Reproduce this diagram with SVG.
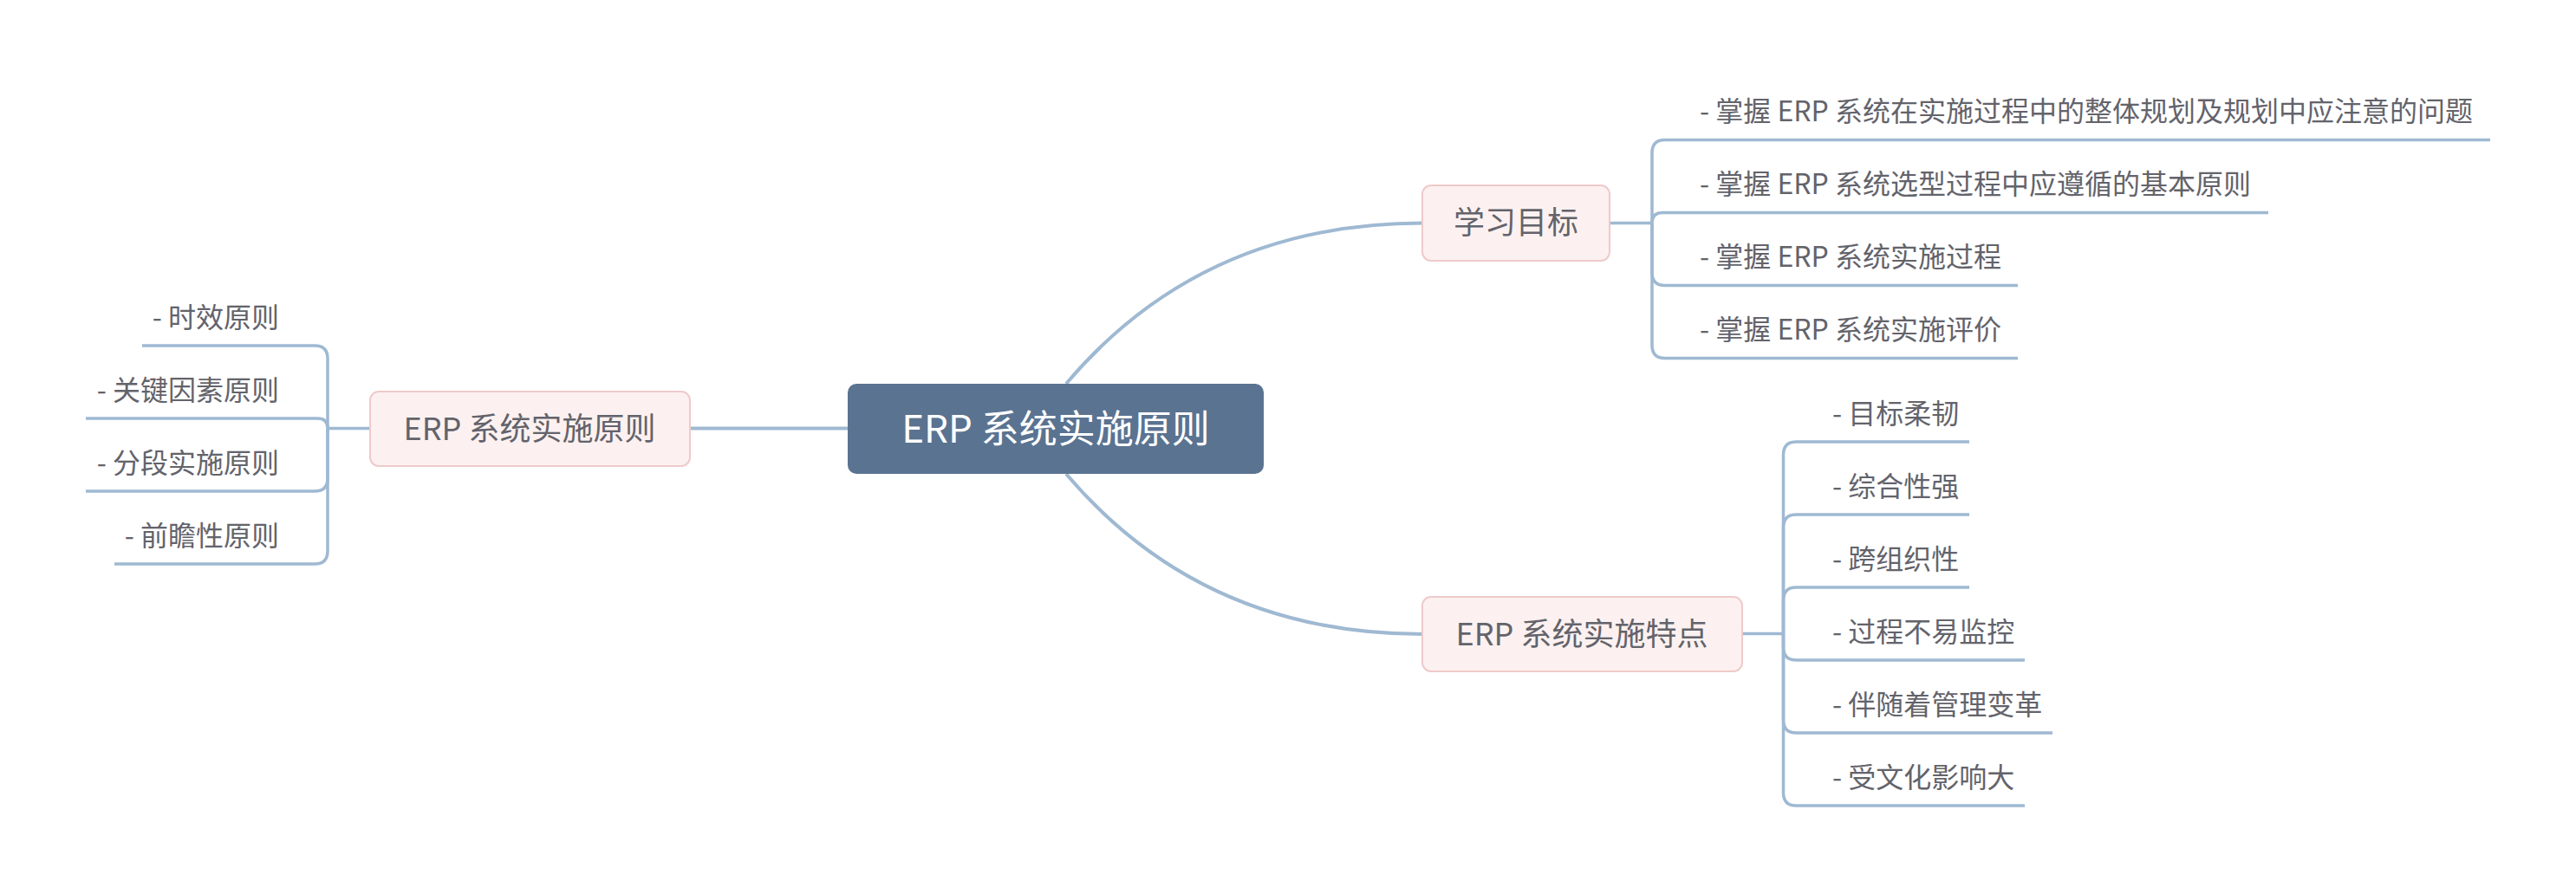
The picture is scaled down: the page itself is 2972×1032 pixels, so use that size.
<svg xmlns="http://www.w3.org/2000/svg" width="2972" height="1032" viewBox="0 0 2972 1032">
<style>
.bg{fill:#ffffff}
.ln{fill:none;stroke:#9fb9d2;stroke-width:3.5;stroke-linecap:butt;stroke-linejoin:round}
.main{fill:none;stroke:#9fb9d2;stroke-width:4}
.root{fill:#5a7391}
.br{fill:#fcf1f0;stroke:#efcaca;stroke-width:2}
text{font-family:"Noto Sans CJK SC","Noto Sans",sans-serif;fill:#63636b}
.t-root{font-size:44px;fill:#ffffff;text-anchor:middle}
.t-br{font-size:36px;text-anchor:middle}
.t-it{font-size:32px}
.t-itl{font-size:32px;text-anchor:end}
</style>
<rect class="bg" x="0" y="0" width="2972" height="1032"/>
<g id="connectors">
  <path class="main" d="M1230,443 Q1387,257.5 1642,257.5"/>
  <path class="main" d="M1230,547 Q1387,732 1642,732"/>
  <path class="main" d="M978,494.5 H796"/>
  <!-- 学习目标 children -->
  <path class="ln" d="M1857,257.5 H1906"/>
  <path class="ln" d="M1906,257.5 V176.5 Q1906,161.5 1921,161.5 H2873"/>
  <path class="ln" d="M1906,257.5 Q1906,245.5 1918,245.5 H2617"/>
  <path class="ln" d="M1906,257.5 V314.5 Q1906,329.5 1921,329.5 H2328"/>
  <path class="ln" d="M1906,257.5 V398.5 Q1906,413.5 1921,413.5 H2328"/>
  <!-- 特点 children -->
  <path class="ln" d="M2010,731.5 H2057.5"/>
  <path class="ln" d="M2057.5,731.5 V525 Q2057.5,510 2072.5,510 H2272"/>
  <path class="ln" d="M2057.5,731.5 V609 Q2057.5,594 2072.5,594 H2272"/>
  <path class="ln" d="M2057.5,731.5 V693 Q2057.5,678 2072.5,678 H2272"/>
  <path class="ln" d="M2057.5,731.5 V747 Q2057.5,762 2072.5,762 H2336"/>
  <path class="ln" d="M2057.5,731.5 V831 Q2057.5,846 2072.5,846 H2368"/>
  <path class="ln" d="M2057.5,731.5 V915 Q2057.5,930 2072.5,930 H2336"/>
  <!-- 原则 children -->
  <path class="ln" d="M427,494.5 H378"/>
  <path class="ln" d="M378,494.5 V414 Q378,399 363,399 H164"/>
  <path class="ln" d="M378,494.5 Q378,483 366.5,483 H99"/>
  <path class="ln" d="M378,494.5 V552 Q378,567 363,567 H99"/>
  <path class="ln" d="M378,494.5 V636 Q378,651 363,651 H132"/>
</g>
<g id="root">
  <rect class="root" x="978" y="443" width="480" height="104" rx="10"/>
  <text class="t-root" x="1218" y="511">ERP 系统实施原则</text>
</g>
<g id="node-xuexi">
  <rect class="br" x="1641" y="214" width="216" height="87" rx="10"/>
  <text class="t-br" x="1749" y="270">学习目标</text>
</g>
<g id="node-tedian">
  <rect class="br" x="1641" y="689" width="369" height="86" rx="10"/>
  <text class="t-br" x="1825" y="745">ERP 系统实施特点</text>
</g>
<g id="node-yuanze">
  <rect class="br" x="427" y="452" width="369" height="86" rx="10"/>
  <text class="t-br" x="611" y="508">ERP 系统实施原则</text>
</g>
<g id="items-xuexi">
  <g id="x1"><text class="t-it" x="1961" y="140">- 掌握 ERP 系统在实施过程中的整体规划及规划中应注意的问题</text></g>
  <g id="x2"><text class="t-it" x="1961" y="224">- 掌握 ERP 系统选型过程中应遵循的基本原则</text></g>
  <g id="x3"><text class="t-it" x="1961" y="308">- 掌握 ERP 系统实施过程</text></g>
  <g id="x4"><text class="t-it" x="1961" y="392">- 掌握 ERP 系统实施评价</text></g>
</g>
<g id="items-tedian">
  <g id="t1"><text class="t-it" x="2114" y="489">- 目标柔韧</text></g>
  <g id="t2"><text class="t-it" x="2114" y="573">- 综合性强</text></g>
  <g id="t3"><text class="t-it" x="2114" y="657">- 跨组织性</text></g>
  <g id="t4"><text class="t-it" x="2114" y="741">- 过程不易监控</text></g>
  <g id="t5"><text class="t-it" x="2114" y="825">- 伴随着管理变革</text></g>
  <g id="t6"><text class="t-it" x="2114" y="909">- 受文化影响大</text></g>
</g>
<g id="items-yuanze">
  <g id="y1"><text class="t-itl" x="322" y="378">- 时效原则</text></g>
  <g id="y2"><text class="t-itl" x="322" y="462">- 关键因素原则</text></g>
  <g id="y3"><text class="t-itl" x="322" y="546">- 分段实施原则</text></g>
  <g id="y4"><text class="t-itl" x="322" y="630">- 前瞻性原则</text></g>
</g>
</svg>
